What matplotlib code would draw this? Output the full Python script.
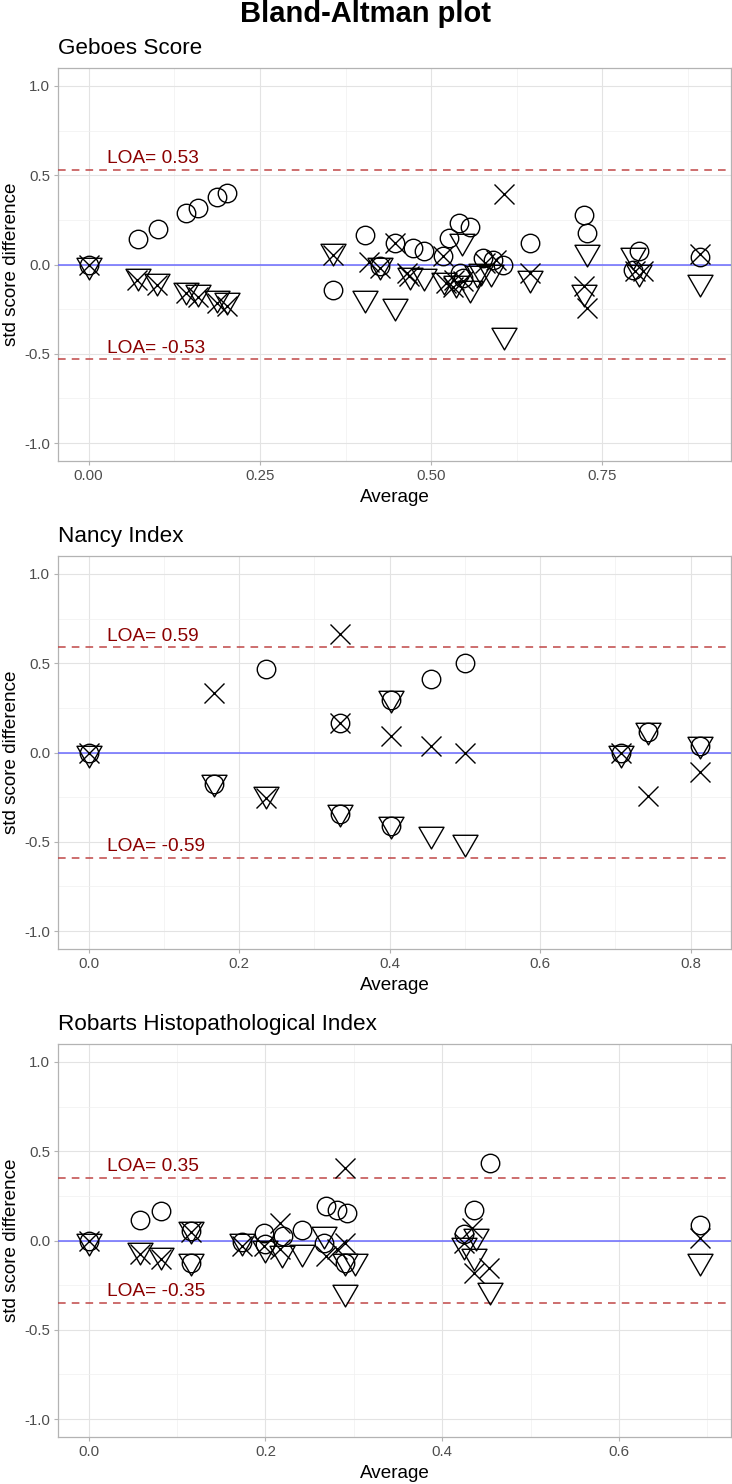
import matplotlib
matplotlib.use('Agg')
import matplotlib.pyplot as plt
from matplotlib.path import Path
from matplotlib.ticker import MultipleLocator, FormatStrFormatter

plt.rcParams['font.family'] = ['Liberation Sans', 'DejaVu Sans']
plt.rcParams['axes.unicode_minus'] = False

# panel titles, limits of agreement, x tick step / format
titles = ['Geboes Score', 'Nancy Index', 'Robarts Histopathological Index']
loa = [0.531, 0.589, 0.350]
x_step = [0.25, 0.2, 0.2]
x_fmt = ['%.2f', '%.1f', '%.1f']

# Geboes Score (average, std score difference)
geboes_circle_x = [0.0, 0.0715, 0.1007, 0.142, 0.160, 0.188, 0.202, 0.357, 0.403, 0.425, 0.447, 0.473, 0.489, 0.518,
                   0.526, 0.541, 0.557, 0.542, 0.547, 0.576, 0.590, 0.605, 0.645, 0.723, 0.727, 0.795, 0.804, 0.893]
geboes_circle_y = [0.0, 0.142, 0.199, 0.287, 0.315, 0.377, 0.402, -0.141, 0.163, -0.010, 0.118, 0.095, 0.078, 0.050,
                   0.150, 0.231, 0.212, -0.050, -0.076, 0.036, 0.026, -0.002, 0.123, 0.278, 0.175, -0.030, 0.073, 0.041]
geboes_tri_x = [0.0, 0.0715, 0.0998, 0.142, 0.160, 0.188, 0.202, 0.357, 0.403, 0.425, 0.447, 0.469, 0.489, 0.519,
                0.536, 0.545, 0.557, 0.567, 0.573, 0.588, 0.606, 0.645, 0.723, 0.727, 0.795, 0.804, 0.893]
geboes_tri_y = [0.0, -0.064, -0.093, -0.140, -0.153, -0.186, -0.197, 0.076, -0.190, 0.0, -0.232, -0.056, -0.065, -0.087,
                -0.106, 0.130, -0.134, -0.050, -0.034, -0.042, -0.395, -0.078, -0.156, 0.071, 0.052, -0.041, -0.097]
geboes_cross_x = [0.0, 0.0712, 0.0998, 0.142, 0.160, 0.188, 0.202, 0.357, 0.410, 0.425, 0.447, 0.465, 0.468, 0.518,
                  0.522, 0.532, 0.534, 0.546, 0.578, 0.595, 0.606, 0.645, 0.723, 0.727, 0.797, 0.809, 0.893]
geboes_cross_y = [0.0, -0.085, -0.113, -0.160, -0.184, -0.216, -0.231, 0.054, 0.015, -0.020, 0.118, -0.048, -0.067, 0.050,
                  -0.104, -0.125, -0.085, -0.095, 0.008, 0.026, 0.393, -0.048, -0.123, -0.244, -0.039, -0.039, 0.060]

# Nancy Index
nancy_circle_x = [0.0, 0.167, 0.236, 0.334, 0.334, 0.402, 0.402, 0.455, 0.500, 0.707, 0.744, 0.813]
nancy_circle_y = [0.0, -0.175, 0.468, 0.164, -0.344, 0.294, -0.413, 0.410, 0.499, 0.0, 0.114, 0.039]
nancy_tri_x = [0.0, 0.167, 0.236, 0.334, 0.402, 0.402, 0.455, 0.500, 0.707, 0.744, 0.813]
nancy_tri_y = [0.0, -0.164, -0.232, -0.331, 0.307, -0.400, -0.456, -0.499, -0.005, 0.125, 0.050]
nancy_cross_x = [0.0, 0.167, 0.236, 0.334, 0.334, 0.402, 0.455, 0.500, 0.707, 0.744, 0.813]
nancy_cross_y = [0.0, 0.332, -0.255, 0.663, 0.164, 0.095, 0.039, 0.0, 0.0, -0.246, -0.110]

# Robarts Histopathological Index
robarts_circle_x = [0.0, 0.0584, 0.0822, 0.116, 0.116, 0.173, 0.198, 0.200, 0.220, 0.241, 0.266, 0.269, 0.281, 0.292,
                    0.290, 0.425, 0.436, 0.454, 0.692]
robarts_circle_y = [0.0, 0.117, 0.164, 0.052, -0.125, -0.010, 0.043, -0.020, 0.024, 0.061, -0.013, 0.192, 0.170, 0.155,
                    -0.125, 0.034, 0.168, 0.434, 0.086]
robarts_tri_x = [0.0, 0.0584, 0.0822, 0.116, 0.116, 0.173, 0.200, 0.219, 0.241, 0.266, 0.290, 0.301, 0.290, 0.425,
                 0.438, 0.436, 0.454, 0.692]
robarts_tri_y = [0.0, -0.052, -0.080, 0.065, -0.117, 0.0, -0.040, -0.071, -0.067, 0.037, -0.117, -0.117, -0.289, -0.024,
                 0.026, -0.089, -0.279, -0.112]
robarts_cross_x = [0.0, 0.0584, 0.0822, 0.116, 0.173, 0.198, 0.217, 0.217, 0.269, 0.281, 0.290, 0.290, 0.425, 0.434,
                   0.436, 0.453, 0.692]
robarts_cross_y = [0.0, -0.078, -0.102, 0.046, -0.030, -0.030, 0.099, -0.050, -0.088, -0.050, -0.013, 0.406, -0.013,
                   0.071, -0.180, -0.153, 0.015]

panels = [
    (geboes_circle_x, geboes_circle_y, geboes_tri_x, geboes_tri_y, geboes_cross_x, geboes_cross_y),
    (nancy_circle_x, nancy_circle_y, nancy_tri_x, nancy_tri_y, nancy_cross_x, nancy_cross_y),
    (robarts_circle_x, robarts_circle_y, robarts_tri_x, robarts_tri_y, robarts_cross_x, robarts_cross_y),
]

# open down-pointing equilateral triangle (like R pch 6)
tri_marker = Path([(-1, 0.577), (1, 0.577), (0, -1.155), (-1, 0.577)], closed=True)

fig = plt.figure(figsize=(7.32, 14.84), dpi=100)
fig.text(0.5, 1 - 22 / 1484, 'Bland-Altman plot', ha='center', va='baseline',
         fontsize=21, fontweight='bold')

bottoms = [1 - 461 / 1484, 1 - 949 / 1484, 1 - 1437 / 1484]

for i, (cx, cy, tx, ty, xx, xy) in enumerate(panels):
    ax = fig.add_axes([58 / 732, bottoms[i], 673 / 732, 393 / 1484])

    # limits of agreement and zero line
    ax.axhline(loa[i], color='#C04646', lw=1.1, ls=(0, (5, 4)), zorder=3)
    ax.axhline(-loa[i], color='#C04646', lw=1.1, ls=(0, (5, 4)), zorder=3)
    ax.axhline(0, color='#6A6AFF', lw=1.1, zorder=3)

    ax.plot(cx, cy, ls='none', marker='o', ms=13.3, mfc='none', mec='black', mew=1.0, zorder=4)
    ax.plot(tx, ty, ls='none', marker=tri_marker, ms=20.8, mfc='none', mec='black', mew=1.0, zorder=4)
    ax.plot(xx, xy, ls='none', marker='x', ms=14, mec='black', mew=1.0, zorder=4)

    ax.annotate('LOA= %.2f' % loa[i], xy=(0.073, loa[i]), xycoords=('axes fraction', 'data'),
                xytext=(0, 4.7), textcoords='offset points', va='baseline', ha='left',
                color='#8B0000', fontsize=13.8, zorder=5)
    ax.annotate('LOA= %.2f' % -loa[i], xy=(0.073, -loa[i]), xycoords=('axes fraction', 'data'),
                xytext=(0, 4.7), textcoords='offset points', va='baseline', ha='left',
                color='#8B0000', fontsize=13.8, zorder=5)

    # ggplot style 5% expansion of x range
    allx = cx + tx + xx
    lo, hi = min(allx), max(allx)
    pad = 0.05 * (hi - lo)
    ax.set_xlim(lo - pad, hi + pad)
    ax.set_ylim(-1.1, 1.1)

    ax.xaxis.set_major_locator(MultipleLocator(x_step[i]))
    ax.xaxis.set_minor_locator(MultipleLocator(x_step[i] / 2))
    ax.xaxis.set_major_formatter(FormatStrFormatter(x_fmt[i]))
    ax.yaxis.set_major_locator(MultipleLocator(0.5))
    ax.yaxis.set_minor_locator(MultipleLocator(0.25))
    ax.yaxis.set_major_formatter(FormatStrFormatter('%.1f'))

    ax.grid(which='major', color='#E3E3E3', lw=0.8)
    ax.grid(which='minor', color='#F0F0F0', lw=0.5)
    ax.set_axisbelow(True)
    for s in ax.spines.values():
        s.set_color('#B3B3B3')
        s.set_linewidth(0.9)
    ax.tick_params(which='major', length=3, width=0.8, color='#B3B3B3', labelsize=10.8,
                   labelcolor='#4D4D4D', pad=2.5)
    ax.tick_params(which='minor', length=0)

    ax.set_title(titles[i], loc='left', fontsize=16.2, pad=10)
    ax.set_xlabel('Average', fontsize=13.6, va='baseline')
    ax.xaxis.set_label_coords(0.5, -41 / 393)
    ax.set_ylabel('std score difference', fontsize=13.6, va='baseline')
    ax.yaxis.set_label_coords(-42 / 673, 0.5)

plt.savefig('out.png', dpi=100)
